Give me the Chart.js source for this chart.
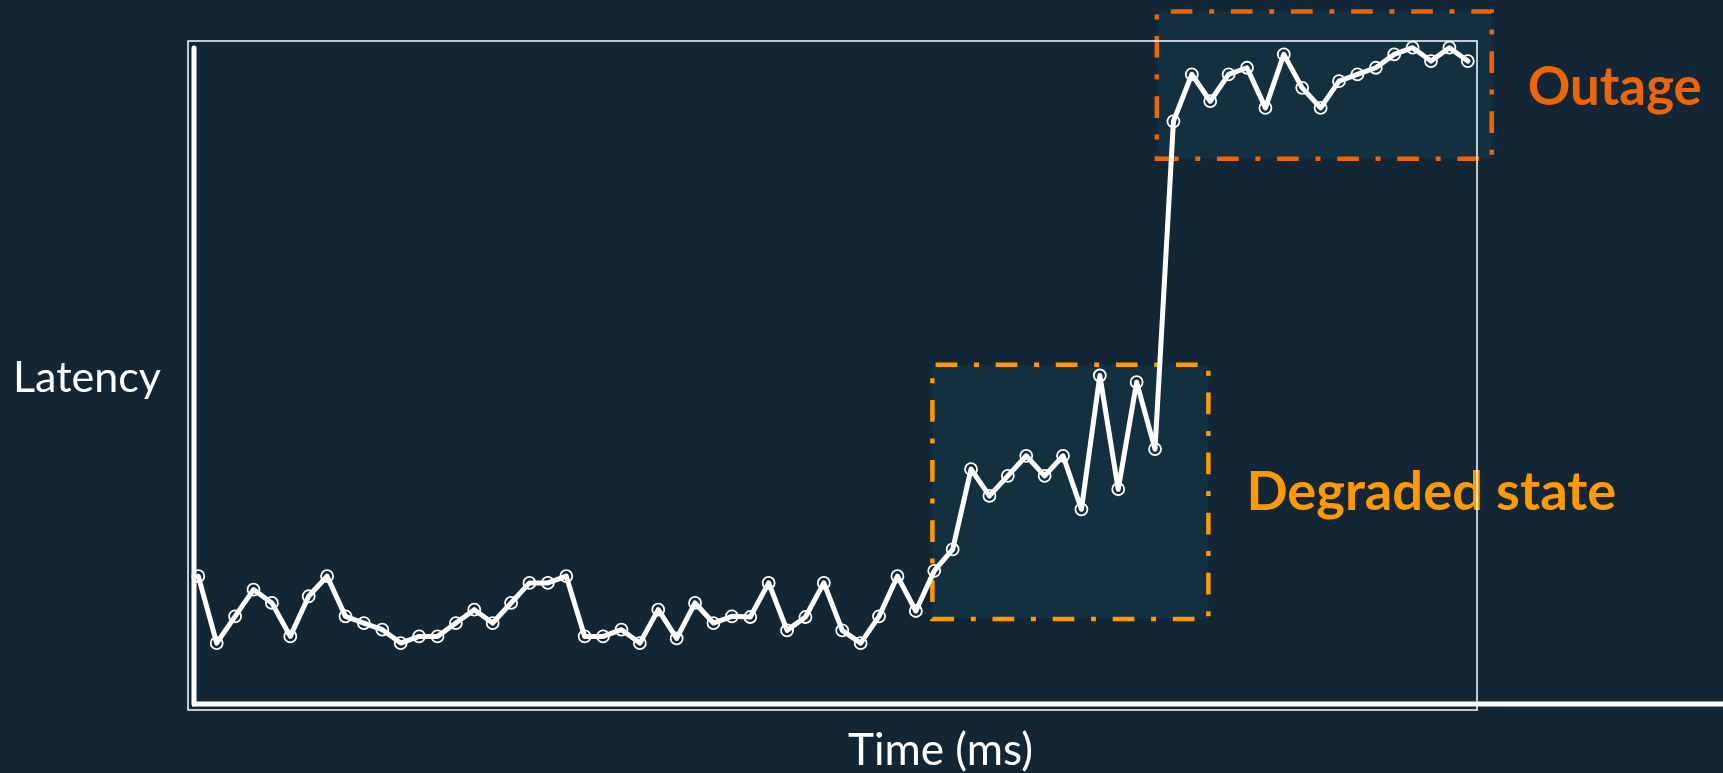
<!DOCTYPE html>
<html>
<head>
<meta charset="utf-8">
<script src="https://cdn.jsdelivr.net/npm/chart.js@4.4.1/dist/chart.umd.min.js"></script>
<style>
  html, body { margin: 0; padding: 0; background: #122636; }
  #wrap { width: 1723px; height: 773px; }
</style>
</head>
<body>
<div id="wrap"><canvas id="c" width="1723" height="773"></canvas></div>
<script>
// Sample index along the time axis
const timeMs = [
  0, 1, 2, 3, 4, 5, 6, 7, 8, 9, 10, 11, 12, 13, 14, 15, 16, 17, 18, 19,
  20, 21, 22, 23, 24, 25, 26, 27, 28, 29, 30, 31, 32, 33, 34, 35, 36, 37, 38, 39,
  40, 41, 42, 43, 44, 45, 46, 47, 48, 49, 50, 51, 52, 53, 54, 55, 56, 57, 58, 59,
  60, 61, 62, 63, 64, 65, 66, 67, 68, 69
];

// Measured latency per sample
const latency = [
  20, 10, 14, 18, 16, 11, 17, 20, 14, 13, 12, 10, 11, 11, 13, 15, 13, 16, 19, 19,
  20, 11, 11, 12, 10, 15, 10.7, 16, 13, 14, 13.9, 19, 11.9, 13.9, 19, 11.9, 10, 14, 20, 14.8,
  20.8, 24, 36, 32, 35, 38, 35, 38, 30, 50, 33, 49, 39, 88, 95, 91, 95, 96, 90, 98,
  93, 90, 94, 95, 96, 98, 99, 97, 99, 97
];

// Highlighted regions (time range and latency range)
const regionLabels = ['Degraded state', 'Outage'];
const regionStart  = [39.9, 52.1];
const regionEnd    = [54.9, 70.3];
const regionLow    = [13.6, 82.4];
const regionHigh   = [51.6, 104.4];

const axisTitleX = 'Time (ms)';
const axisTitleY = 'Latency';

const BG = '#122636';
const regionStyle = [
  { stroke: '#FF9900', fill: '#133041' },
  { stroke: '#EC6608', fill: '#133041' }
];

// Draws a caption starting at (x, baseline) sized to span the given width
function fitText(ctx, text, x, baseline, width, weight) {
  ctx.font = weight + ' 40px Lato';
  const size = 40 * width / ctx.measureText(text).width;
  ctx.font = weight + ' ' + size.toFixed(2) + 'px Lato';
  ctx.fillText(text, x, baseline);
}

const regionsPlugin = {
  id: 'regions',
  beforeDatasetsDraw(chart) {
    const { ctx, scales: { x, y } } = chart;
    ctx.save();
    regionLabels.forEach((_, i) => {
      const x0 = x.getPixelForValue(regionStart[i]);
      const x1 = x.getPixelForValue(regionEnd[i]);
      const yb = y.getPixelForValue(regionLow[i]);
      const yt = y.getPixelForValue(regionHigh[i]);
      ctx.fillStyle = regionStyle[i].fill;
      ctx.fillRect(x0, yt, x1 - x0, yb - yt);
      ctx.beginPath();
      ctx.moveTo(x0, yb);
      ctx.lineTo(x1, yb);
      ctx.lineTo(x1, yt);
      ctx.lineTo(x0, yt);
      ctx.closePath();
      ctx.setLineDash([21.7, 16.7, 5, 16.7]);
      ctx.lineWidth = 4.5;
      ctx.lineCap = 'butt';
      ctx.strokeStyle = regionStyle[i].stroke;
      ctx.stroke();
    });
    ctx.restore();
  },
  afterDatasetsDraw(chart) {
    const { ctx, chartArea: a, scales: { x, y } } = chart;
    ctx.save();
    ctx.textBaseline = 'alphabetic';
    ctx.textAlign = 'left';
    // region captions
    ctx.fillStyle = regionStyle[0].stroke;
    fitText(ctx, regionLabels[0], x.getPixelForValue(regionEnd[0]) + 38, y.getPixelForValue(regionLow[0]) - 109, 370, 'bold');
    ctx.fillStyle = regionStyle[1].stroke;
    fitText(ctx, regionLabels[1], x.getPixelForValue(regionEnd[1]) + 36, y.getPixelForValue(regionLow[1]) - 54, 174, 'bold');

    // axis titles
    ctx.fillStyle = '#FFFFFF';
    fitText(ctx, axisTitleY, 13, 392, 148, 'normal');
    fitText(ctx, axisTitleX, 848, 765, 185, 'normal');

    // frame around the plotting area
    ctx.lineWidth = 1.5;
    ctx.strokeStyle = '#FFFFFF';
    ctx.strokeRect(a.left, a.top, a.right - a.left, a.bottom - a.top);

    // emphasized axis lines
    ctx.lineWidth = 5;
    ctx.lineCap = 'round';
    ctx.beginPath();
    ctx.moveTo(a.left + 6, a.top + 7);
    ctx.lineTo(a.left + 6, a.bottom - 6);
    ctx.stroke();
    ctx.lineCap = 'butt';
    ctx.beginPath();
    ctx.moveTo(a.left + 4, a.bottom - 6);
    ctx.lineTo(chart.width, a.bottom - 6);
    ctx.stroke();
    ctx.restore();
  }
};

new Chart(document.getElementById('c'), {
  type: 'line',
  data: {
    datasets: [{
      data: timeMs.map((t, i) => ({ x: t, y: latency[i] })),
      borderColor: '#FFFFFF',
      borderWidth: 5,
      borderJoinStyle: 'round',
      borderCapStyle: 'round',
      tension: 0,
      pointRadius: 6,
      pointBorderWidth: 1.8,
      pointBorderColor: '#FFFFFF',
      pointBackgroundColor: 'rgba(0,0,0,0)',
      clip: false
    }]
  },
  options: {
    responsive: false,
    animation: false,
    events: [],
    layout: { padding: { left: 188, top: 41, right: 246, bottom: 63 } },
    plugins: { legend: { display: false }, tooltip: { enabled: false } },
    scales: {
      x: { type: 'linear', min: -0.56, max: 69.5, display: false },
      y: { type: 'linear', min: 0, max: 100, display: false }
    }
  },
  plugins: [{
    id: 'bg',
    beforeDraw(chart) {
      const { ctx } = chart;
      ctx.save();
      ctx.fillStyle = BG;
      ctx.fillRect(0, 0, chart.width, chart.height);
      ctx.restore();
    }
  }, regionsPlugin]
});
</script>
</body>
</html>
